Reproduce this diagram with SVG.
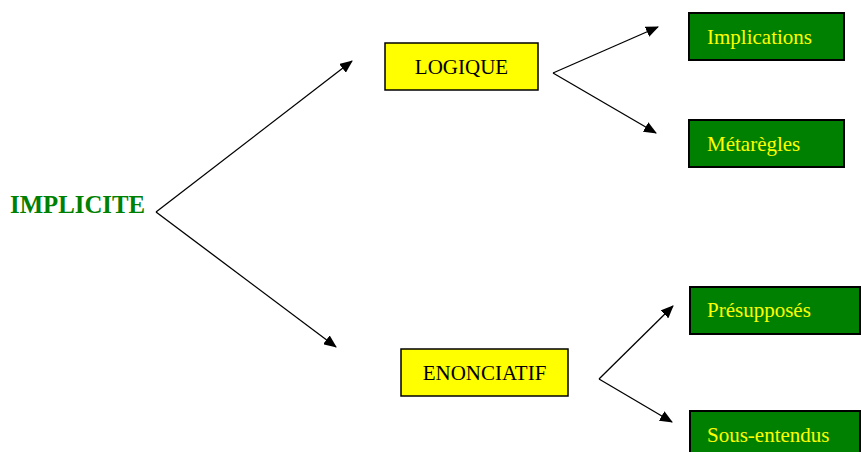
<svg xmlns="http://www.w3.org/2000/svg" width="861" height="452" viewBox="0 0 861 452">
  <defs>
    <marker id="arrow" viewBox="0 0 13 11" refX="12" refY="5.5" markerWidth="13" markerHeight="11" markerUnits="userSpaceOnUse" orient="auto">
      <path d="M0,0 L13,5.5 L0,11 Z" fill="#000"/>
    </marker>
  </defs>
  <style>
    .txt { font-family: "Liberation Serif", "Times New Roman", serif; }
    .root { font-size: 24.8px; font-weight: bold; fill: #008000; }
    .mid rect { fill: #ffff00; stroke: #000; stroke-width: 1.5; }
    .mid text { font-size: 21px; fill: #000; text-anchor: middle; }
    .leaf rect { fill: #008000; stroke: #000; stroke-width: 2; }
    .leaf text { font-size: 21px; fill: #ffff00; }
    .edge { stroke: #000; stroke-width: 1.3; fill: none; marker-end: url(#arrow); }
  </style>
  <rect width="861" height="452" fill="#fff"/>

  <g id="connectors">
    <path class="edge" d="M156,212 L352,61"/>
    <path class="edge" d="M156,212 L336,347"/>
    <path class="edge" d="M553,73 L658,27"/>
    <path class="edge" d="M553,73 L656,133"/>
    <path class="edge" d="M599,379 L673,306"/>
    <path class="edge" d="M599,379 L672,422"/>
  </g>

  <g id="implicite">
    <text class="txt root" x="10" y="213">IMPLICITE</text>
  </g>

  <g id="logique" class="mid">
    <rect x="385" y="43" width="153" height="47"/>
    <text class="txt" x="461.5" y="74">LOGIQUE</text>
  </g>

  <g id="enonciatif" class="mid">
    <rect x="401" y="349" width="167" height="47"/>
    <text class="txt" x="484.5" y="380">ENONCIATIF</text>
  </g>

  <g id="implications" class="leaf">
    <rect x="689" y="13" width="155" height="47"/>
    <text class="txt" x="707" y="44">Implications</text>
  </g>

  <g id="metaregles" class="leaf">
    <rect x="689" y="120" width="155" height="47"/>
    <text class="txt" x="707" y="151">Métarègles</text>
  </g>

  <g id="presupposes" class="leaf">
    <rect x="690" y="287" width="170" height="47"/>
    <text class="txt" x="707" y="317">Présupposés</text>
  </g>

  <g id="sous-entendus" class="leaf">
    <rect x="690" y="411" width="170" height="47"/>
    <text class="txt" x="707" y="442">Sous-entendus</text>
  </g>
</svg>
